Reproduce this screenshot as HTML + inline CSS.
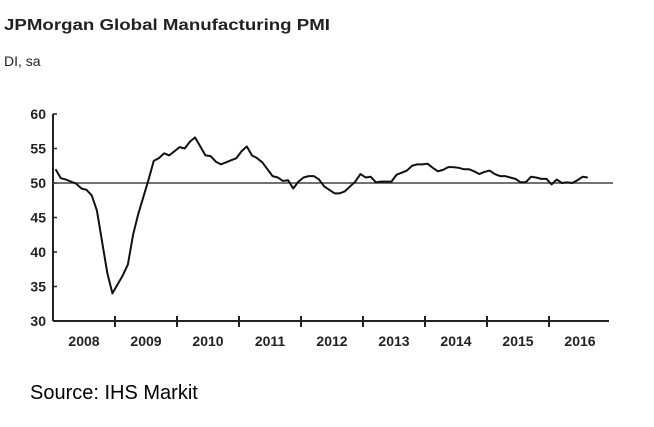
<!DOCTYPE html>
<html><head><meta charset="utf-8"><style>
body{margin:0;background:#fff;width:654px;height:422px;overflow:hidden;font-family:"Liberation Sans",sans-serif}
</style></head><body>
<svg width="654" height="422">
<text x="4" y="30" font-size="16" font-weight="bold" fill="#222" textLength="326" lengthAdjust="spacingAndGlyphs">JPMorgan Global Manufacturing PMI</text>
<text x="4" y="66" font-size="14" fill="#222">DI, sa</text>
<g id="yax"></g>
<g id="xax"></g>
<g id="plot"></g>
<text x="30" y="399" font-size="20" fill="#000">Source:  IHS Markit</text>
</svg>
<script>
const years=["2008","2009","2010","2011","2012","2013","2014","2015","2016"];
const yTicks=[30,35,40,45,50,55,60];
const pmi=[52,50.7,50.5,50.2,49.9,49.2,49.0,48.2,46,41.5,37,34,
35.3,36.6,38.2,42.5,45.5,48,50.5,53.2,53.6,54.3,54.0,54.6,
55.2,55.0,56.0,56.6,55.3,54.0,53.9,53.1,52.7,53.0,53.3,53.6,
54.6,55.3,54.0,53.6,53.0,52.0,51.0,50.8,50.3,50.4,49.2,50.2,
50.8,51.0,51.0,50.5,49.5,49.0,48.5,48.5,48.8,49.5,50.2,51.3,
50.8,50.9,50.1,50.2,50.2,50.2,51.2,51.5,51.8,52.5,52.7,52.7,
52.8,52.2,51.7,51.9,52.3,52.3,52.2,52.0,52.0,51.7,51.3,51.6,
51.8,51.3,51.0,51.0,50.8,50.6,50.1,50.1,50.9,50.8,50.6,50.6,
49.8,50.5,50.0,50.1,50.0,50.4,50.9,50.8];
const ref=50;
const NS="http://www.w3.org/2000/svg";
const X0=53,YW=62,X1=609;
const y=v=>321-(v-30)*(321-114)/30;
const xm=i=>X0+(i+0.5)*YW/12;
function mk(t,a,p){const e=document.createElementNS(NS,t);for(const k in a)e.setAttribute(k,a[k]);p.appendChild(e);return e;}
const yax=document.getElementById('yax'),xax=document.getElementById('xax'),plot=document.getElementById('plot');
let l=mk('line',{x1:X0,y1:114,x2:X0,y2:321,stroke:'#222','stroke-width':2},yax);


yTicks.forEach(v=>{
 const t=mk('text',{x:46,y:y(v)+5,'font-size':14,'font-weight':'bold','text-anchor':'end',fill:'#222'},yax);
 t.textContent=v;
 
 
 const tk=mk('line',{x1:X0,y1:y(v),x2:X0+4,y2:y(v),stroke:'#222','stroke-width':1.5},yax);
 
 
});
l=mk('line',{x1:X0,y1:321,x2:X1,y2:321,stroke:'#222','stroke-width':2},xax);


years.forEach((yr,i)=>{
 const t=mk('text',{x:X0+(i+0.5)*YW,y:346,'font-size':14,'font-weight':'bold','text-anchor':'middle',fill:'#222'},xax);
 t.textContent=yr;
 
 
 if(i>0){const tk=mk('line',{x1:X0+i*YW,y1:316,x2:X0+i*YW,y2:327,stroke:'#222','stroke-width':2},xax);
 
 }
});
l=mk('line',{x1:X0,y1:y(ref),x2:613,y2:y(ref),stroke:'#444','stroke-width':1.5},plot);


const p=mk('polyline',{points:pmi.map((v,i)=>xm(i)+','+y(v)).join(' '),fill:'none',stroke:'#111','stroke-width':2,'stroke-linejoin':'round'},plot);


</script>
</body></html>
